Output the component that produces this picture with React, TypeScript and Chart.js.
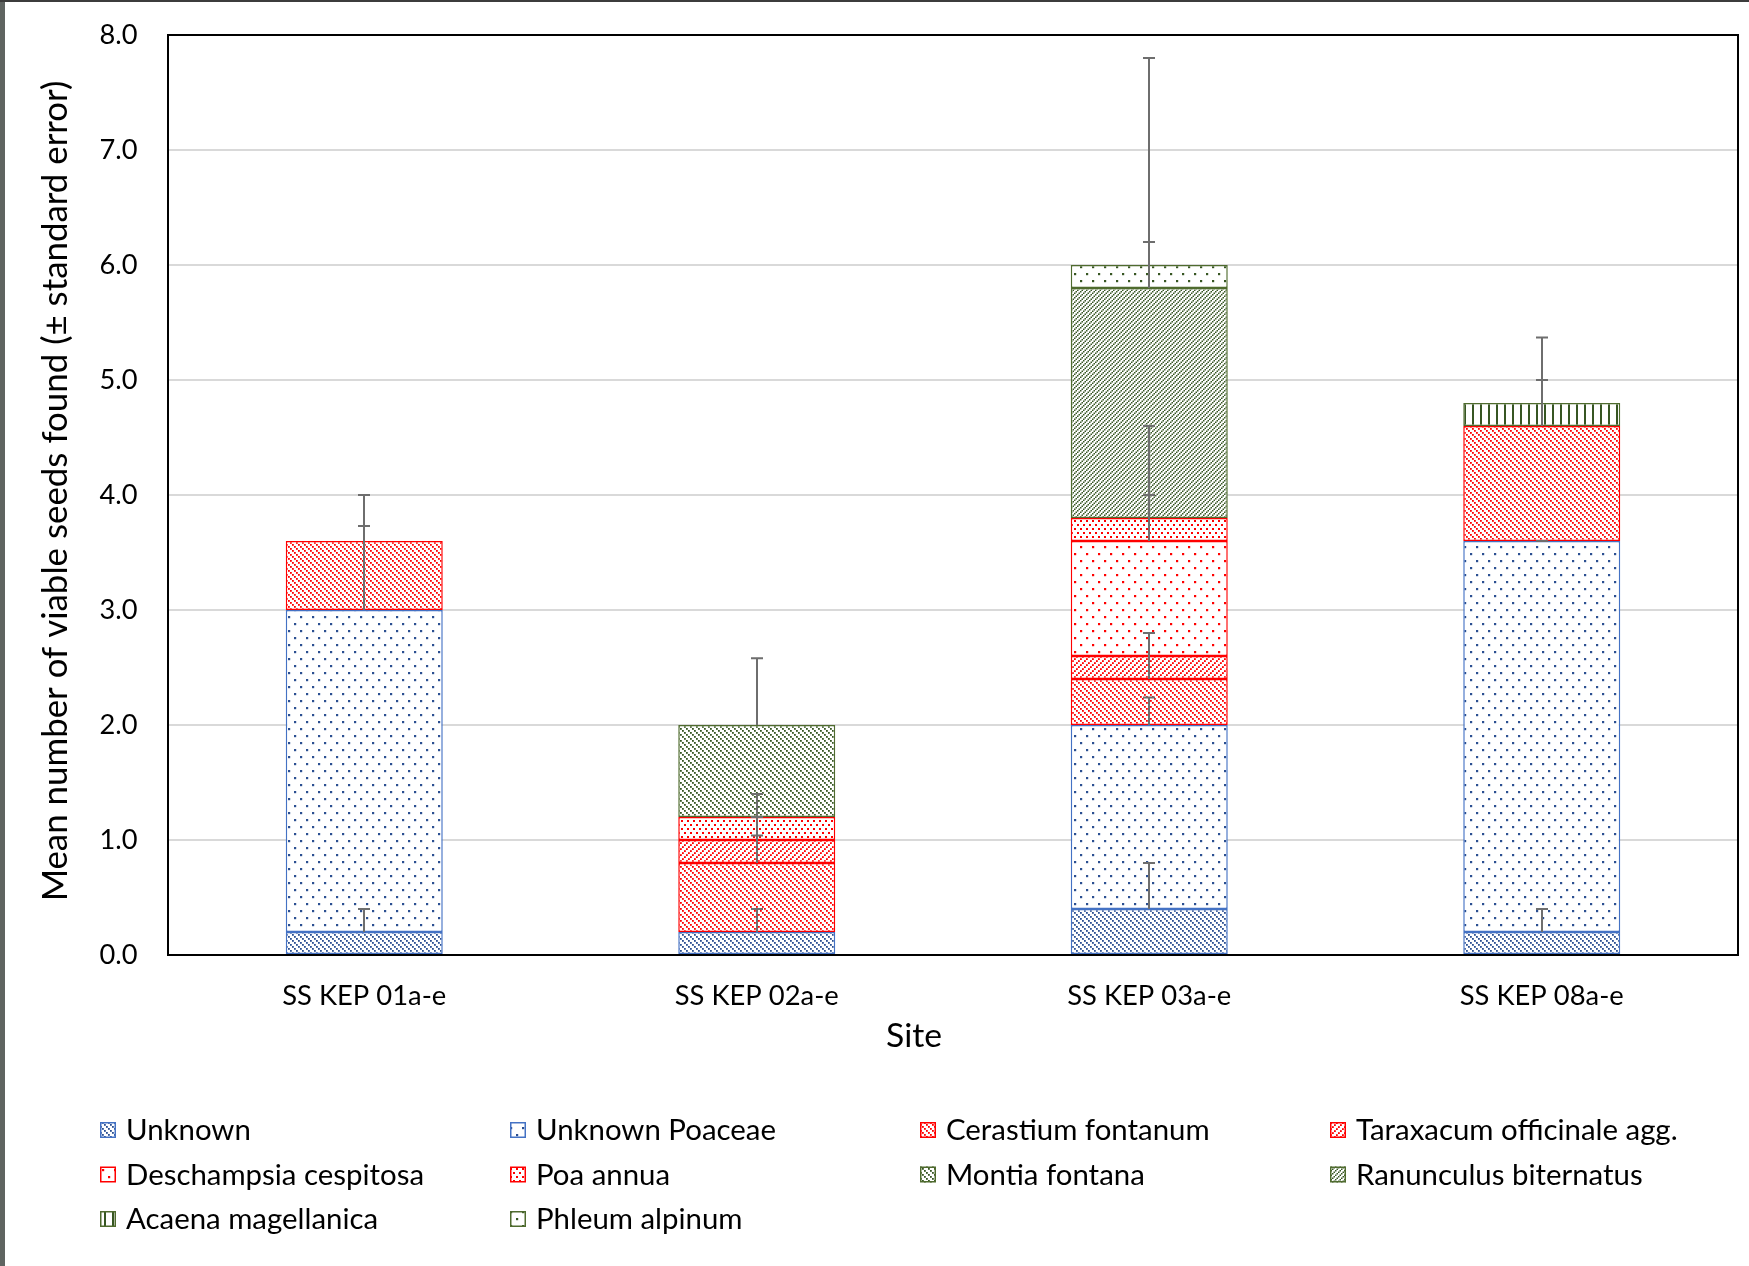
import React, { useEffect, useRef } from 'react';
import { Chart, registerables } from 'chart.js';

Chart.register(...registerables);

// ---------- data ----------
const sites = ['SS KEP 01a-e', 'SS KEP 02a-e', 'SS KEP 03a-e', 'SS KEP 08a-e'];
const species = [
  'Unknown',
  'Unknown Poaceae',
  'Cerastium fontanum',
  'Taraxacum officinale agg.',
  'Deschampsia cespitosa',
  'Poa annua',
  'Montia fontana',
  'Ranunculus biternatus',
  'Acaena magellanica',
  'Phleum alpinum',
];

const unknown = [0.2, 0.2, 0.4, 0.2];
const unknownPoaceae = [2.8, null, 1.6, 3.4];
const cerastium = [0.6, 0.6, 0.4, 1.0];
const taraxacum = [null, 0.2, 0.2, null];
const deschampsia = [null, null, 1.0, null];
const poaAnnua = [null, 0.2, 0.2, null];
const montia = [null, 0.8, null, null];
const ranunculus = [null, null, 2.0, null];
const acaena = [null, null, null, 0.2];
const phleum = [null, null, 0.2, null];

// standard errors (upper bars only)
const unknownSE = [0.2, 0.2, 0.4, 0.2];
const unknownPoaceaeSE = [0.73, null, 0.24, 0];
const cerastiumSE = [0.4, 0.24, 0.4, 0.77];
const taraxacumSE = [null, 0.2, 0.2, null];
const deschampsiaSE = [null, null, 1.0, null];
const poaAnnuaSE = [null, 0.2, 0.2, null];
const montiaSE = [null, 0.58, null, null];
const ranunculusSE = [null, null, 2.0, null];
const acaenaSE = [null, null, null, 0.2];
const phleumSE = [null, null, 0.2, null];

const yTickValues = [0, 1, 2, 3, 4, 5, 6, 7, 8];
const yTitle = 'Mean number of viable seeds found (\u00b1 standard error)';
const xTitle = 'Site';

const seriesValues = [unknown, unknownPoaceae, cerastium, taraxacum, deschampsia, poaAnnua, montia, ranunculus, acaena, phleum];
const seriesErrors = [unknownSE, unknownPoaceaeSE, cerastiumSE, taraxacumSE, deschampsiaSE, poaAnnuaSE, montiaSE, ranunculusSE, acaenaSE, phleumSE];

// ---------- styles ----------
const FAMILY = "Lato, 'Open Sans', 'DejaVu Sans', sans-serif";
const BLUE_FG = '#2B4F91';
const BLUE_BORDER = '#4472C4';
const RED = '#FF0000';
const GREEN_FG = '#375623';
const GREEN_BORDER = '#4F6B2E';
const ERR_COLOR = '#6E6E6E';

type PatKind = 'down' | 'up' | 'upDense' | 'dots' | 'dotsDense' | 'vert';
const seriesStyle: { kind: PatKind; fg: string; border: string }[] = [
  { kind: 'down', fg: BLUE_FG, border: BLUE_BORDER },
  { kind: 'dots', fg: BLUE_FG, border: BLUE_BORDER },
  { kind: 'down', fg: RED, border: RED },
  { kind: 'up', fg: RED, border: RED },
  { kind: 'dots', fg: RED, border: RED },
  { kind: 'dotsDense', fg: RED, border: RED },
  { kind: 'down', fg: GREEN_FG, border: GREEN_BORDER },
  { kind: 'upDense', fg: GREEN_FG, border: GREEN_BORDER },
  { kind: 'vert', fg: GREEN_FG, border: GREEN_BORDER },
  { kind: 'dots', fg: GREEN_FG, border: GREEN_BORDER },
];

function makePattern(ctx: CanvasRenderingContext2D, kind: PatKind, color: string): CanvasPattern {
  const tile = document.createElement('canvas');
  let w = 6, h = 6;
  if (kind === 'dots') { w = 12; h = 14; }
  if (kind === 'dotsDense') { w = 6; h = 8; }
  if (kind === 'vert') { w = 8; h = 2; }
  if (kind === 'upDense') { w = 9; h = 9; }
  tile.width = w;
  tile.height = h;
  const g = tile.getContext('2d')!;
  g.fillStyle = '#ffffff';
  g.fillRect(0, 0, w, h);
  g.fillStyle = color;
  const d = 1.8;
  if (kind === 'down') {
    for (let k = 0; k < 6; k += 2) g.fillRect(k, k, d, d);
  } else if (kind === 'up') {
    for (let k = 0; k < 6; k += 2) g.fillRect(k, 6 - d - k, d, d);
  } else if (kind === 'upDense') {
    const s = 1.5;
    for (let k = 0; k < 9; k += s) {
      g.fillRect(k, (9 - s - k + 9) % 9, s, s);
      g.fillRect(k, (9 - s - k + 4.5 + 9) % 9, s, s);
    }
  } else if (kind === 'dots') {
    g.fillRect(0, 0, 2.2, 2.2);
    g.fillRect(6, 7, 2.2, 2.2);
  } else if (kind === 'dotsDense') {
    g.fillRect(0, 0, 2, 2);
    g.fillRect(3, 4, 2, 2);
  } else if (kind === 'vert') {
    g.fillRect(0, 0, 2, 2);
  }
  return ctx.createPattern(tile, 'repeat')!;
}

function fitSize(text: string, target: number): number {
  const c = document.createElement('canvas').getContext('2d')!;
  c.font = `100px ${FAMILY}`;
  return (100 * target) / c.measureText(text).width;
}

// layout targets (px)
const W = 1749;
const H = 1266;
const AREA_LEFT = 168;
const AREA_TOP = 35;
const AREA_RIGHT = 1738;
const AREA_BOTTOM = 955;
const LEGEND_PAD = 180;

export default function App() {
  const ref = useRef<HTMLCanvasElement | null>(null);

  useEffect(() => {
    const canvas = ref.current!;
    const ctx = canvas.getContext('2d')!;

    const xTickSize = fitSize(sites[0], 164);
    const yTickSize = fitSize('8.0', 38);
    const legendSize = fitSize('Unknown Poaceae', 240);
    const xTitleSize = fitSize(xTitle, 56);
    const yTitleSize = fitSize(yTitle, 821);

    const patterns = seriesStyle.map((s) => makePattern(ctx, s.kind, s.fg));

    const datasets = species.map((name, i) => ({
      label: name,
      data: seriesValues[i],
      backgroundColor: patterns[i],
      borderColor: seriesStyle[i].border,
      borderWidth: 1.5,
      borderSkipped: false as const,
      barPercentage: 0.4,
      categoryPercentage: 1.0,
    }));

    const framePlugin = {
      id: 'frame',
      beforeDraw(chart: any) {
        const c = chart.ctx;
        c.save();
        c.fillStyle = '#ffffff';
        c.fillRect(0, 0, W, H);
        c.fillStyle = '#5F6461';
        c.fillRect(0, 0, 5, H);
        c.fillStyle = '#3C3C3C';
        c.fillRect(0, 0, W, 2);
        c.restore();
      },
    };

    const errorPlugin = {
      id: 'errorBars',
      afterDatasetsDraw(chart: any) {
        const c = chart.ctx;
        const y = chart.scales.y;
        c.save();
        c.strokeStyle = ERR_COLOR;
        c.lineWidth = 2;
        const cum = sites.map(() => 0);
        seriesValues.forEach((vals, i) => {
          const meta = chart.getDatasetMeta(i);
          vals.forEach((v, j) => {
            if (v == null) return;
            cum[j] += v;
            const e = seriesErrors[i][j];
            if (e == null) return;
            const el = meta.data[j];
            const x = Math.round(el.x);
            const y0 = y.getPixelForValue(cum[j]);
            const y1 = y.getPixelForValue(cum[j] + e);
            c.beginPath();
            c.moveTo(x, y0);
            c.lineTo(x, y1);
            c.moveTo(x - 6, y1);
            c.lineTo(x + 6, y1);
            c.stroke();
          });
        });
        const a = chart.chartArea;
        c.strokeStyle = '#000000';
        c.lineWidth = 2;
        c.strokeRect(a.left, a.top, a.right - a.left, a.bottom - a.top);
        c.restore();
      },
    };

    const textPlugin = {
      id: 'titlesAndLegend',
      afterDraw(chart: any) {
        const c = chart.ctx;
        c.save();
        c.fillStyle = '#000000';
        c.textBaseline = 'middle';
        c.textAlign = 'center';
        // axis titles
        c.font = `${xTitleSize}px ${FAMILY}`;
        c.fillText(xTitle, 914, 1036);
        c.save();
        c.translate(56, 491);
        c.rotate(-Math.PI / 2);
        c.font = `${yTitleSize}px ${FAMILY}`;
        c.fillText(yTitle, 0, 0);
        c.restore();
        // legend
        c.font = `${legendSize}px ${FAMILY}`;
        c.textAlign = 'left';
        species.forEach((name, i) => {
          const col = i % 4;
          const row = Math.floor(i / 4);
          const bx = 100 + col * 410;
          const cy = 1130 + row * 44.5;
          c.fillStyle = patterns[i];
          c.fillRect(bx, cy - 8, 16, 16);
          c.strokeStyle = seriesStyle[i].border;
          c.lineWidth = 1.5;
          c.strokeRect(bx + 0.75, cy - 7.25, 14.5, 14.5);
          c.fillStyle = '#000000';
          c.fillText(name, bx + 26, cy + 1);
        });
        c.restore();
      },
    };

    const chart = new Chart(canvas, {
      type: 'bar',
      data: { labels: sites, datasets },
      options: {
        responsive: false,
        animation: false,
        devicePixelRatio: 1,
        layout: {
          padding: { left: 0, top: AREA_TOP, right: W - AREA_RIGHT, bottom: LEGEND_PAD },
        },
        plugins: {
          legend: { display: false },
          tooltip: { enabled: false },
        },
        scales: {
          x: {
            stacked: true,
            offset: true,
            grid: { display: false, drawTicks: false },
            border: { display: false },
            ticks: {
              color: '#000000',
              font: { family: FAMILY, size: xTickSize, lineHeight: 1.2 },
              padding: 996 - AREA_BOTTOM - 0.6 * xTickSize,
              maxRotation: 0,
              autoSkip: false,
            },
            afterFit: (s: any) => {
              s.height = H - LEGEND_PAD - AREA_BOTTOM;
            },
          },
          y: {
            stacked: true,
            min: yTickValues[0],
            max: yTickValues[yTickValues.length - 1],
            afterBuildTicks: (s: any) => {
              s.ticks = yTickValues.map((v) => ({ value: v }));
            },
            ticks: {
              color: '#000000',
              font: { family: FAMILY, size: yTickSize, lineHeight: 1.2 },
              padding: 0,
              callback: (v: any) => Number(v).toFixed(1),
            },
            grid: {
              color: '#D9D9D9',
              lineWidth: 2,
              drawTicks: true,
              tickLength: AREA_LEFT - 137.5,
              tickColor: 'rgba(0,0,0,0)',
            },
            border: { display: false },
            afterFit: (s: any) => {
              s.width = AREA_LEFT;
            },
          },
        },
      },
      plugins: [framePlugin, errorPlugin, textPlugin],
    });

    return () => chart.destroy();
  }, []);

  return (
    <div style={{ position: 'absolute', left: 0, top: 0, width: W, height: H, background: '#fff' }}>
      <canvas ref={ref} width={W} height={H} style={{ width: W, height: H, display: 'block' }} />
    </div>
  );
}
